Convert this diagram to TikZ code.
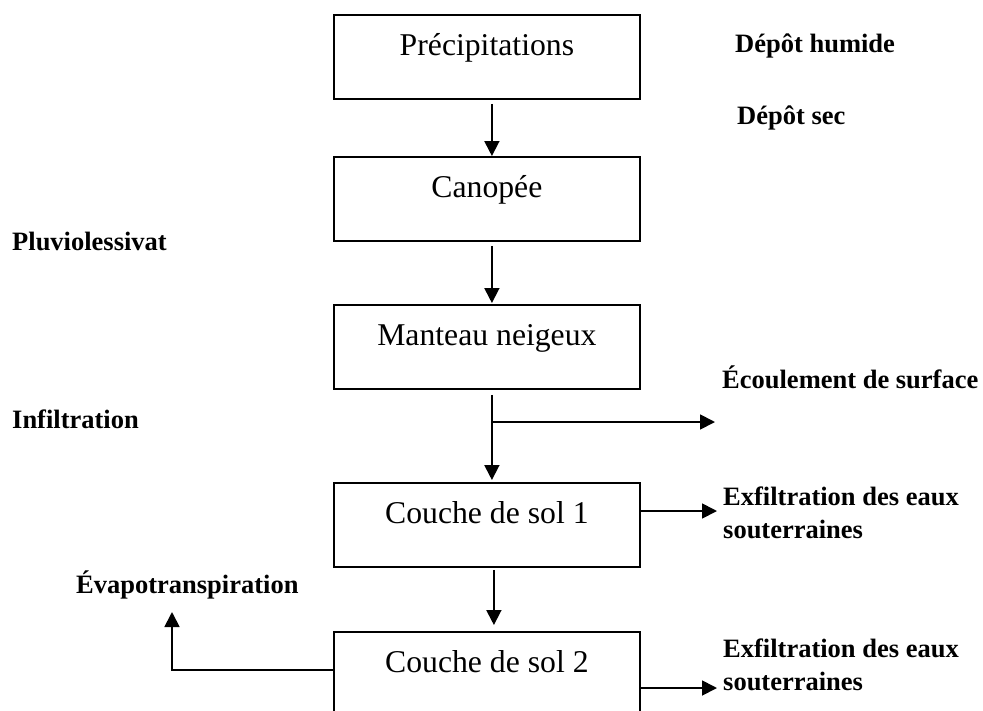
\documentclass[tikz,border=0pt]{standalone}
\usepackage{fontspec}
\setmainfont{Liberation Serif}
\usetikzlibrary{arrows.meta}
\begin{document}
\begin{tikzpicture}[x=1pt,y=-1pt,
  boxnode/.style={draw, line width=1.8pt, inner sep=0pt, minimum width=306pt,
    text height=41pt, text depth=43pt, anchor=north west,
    font=\fontsize{31.7}{36}\selectfont},
  lbl/.style={anchor=base west, inner sep=0pt,
    font=\fontsize{26.5}{33}\selectfont\bfseries, align=left},
  flow/.style={line width=1.8pt, -{Triangle[length=15pt,width=15pt]}}]
\useasboundingbox (0,0) rectangle (983,710);
\clip (0,0) rectangle (983,710);

\node[boxnode] (prec) at (333,14) {Précipitations};
\node[boxnode] (can) at (333,156) {Canopée};
\node[boxnode] (man) at (333,304) {Manteau neigeux};
\node[boxnode] (sol1) at (333,482) {Couche de sol 1};
\node[boxnode] (sol2) at (333,631) {Couche de sol 2};

\node[lbl] (humide) at (735,52) {Dépôt humide};
\node[lbl] (sec) at (737,124) {Dépôt sec};
\node[lbl] (pluvio) at (12,250) {Pluviolessivat};
\node[lbl] (infil) at (12,428) {Infiltration};
\node[lbl] (ecoul) at (722,388) {Écoulement de surface};
\node[lbl] (evapo) at (76,593) {Évapotranspiration};
\node[lbl] (exf1) at (723,538) {Exfiltration des eaux\\souterraines};
\node[lbl] (exf2) at (723,690) {Exfiltration des eaux\\souterraines};

\coordinate (ecoulend) at (715,422);
\coordinate (exf1end) at (717,511);
\coordinate (exf2end) at (717,688);
\coordinate (evapend) at (172,612);
\coordinate (evapstart) at (333,670);

\draw[flow, shorten <=4pt] ([xshift=5pt]prec.south) -- ([xshift=5pt]can.north);
\draw[flow, shorten <=4pt, shorten >=1pt] ([xshift=5pt]can.south) -- ([xshift=5pt]man.north);
\draw[flow, shorten <=5pt, shorten >=2pt] ([xshift=5pt]man.south) -- ([xshift=5pt]sol1.north);
\coordinate (br) at ([xshift=6pt]man.south |- ecoulend);
\draw[flow] (br) -- (ecoulend);
\draw[flow, shorten <=2pt, shorten >=6pt] ([xshift=7pt]sol1.south) -- ([xshift=7pt]sol2.north);
\draw[flow] (sol1.east |- exf1end) -- (exf1end);
\draw[flow] (sol2.east |- exf2end) -- (exf2end);
\draw[flow] (sol2.west |- evapstart) -| (evapend);
\end{tikzpicture}
\end{document}
